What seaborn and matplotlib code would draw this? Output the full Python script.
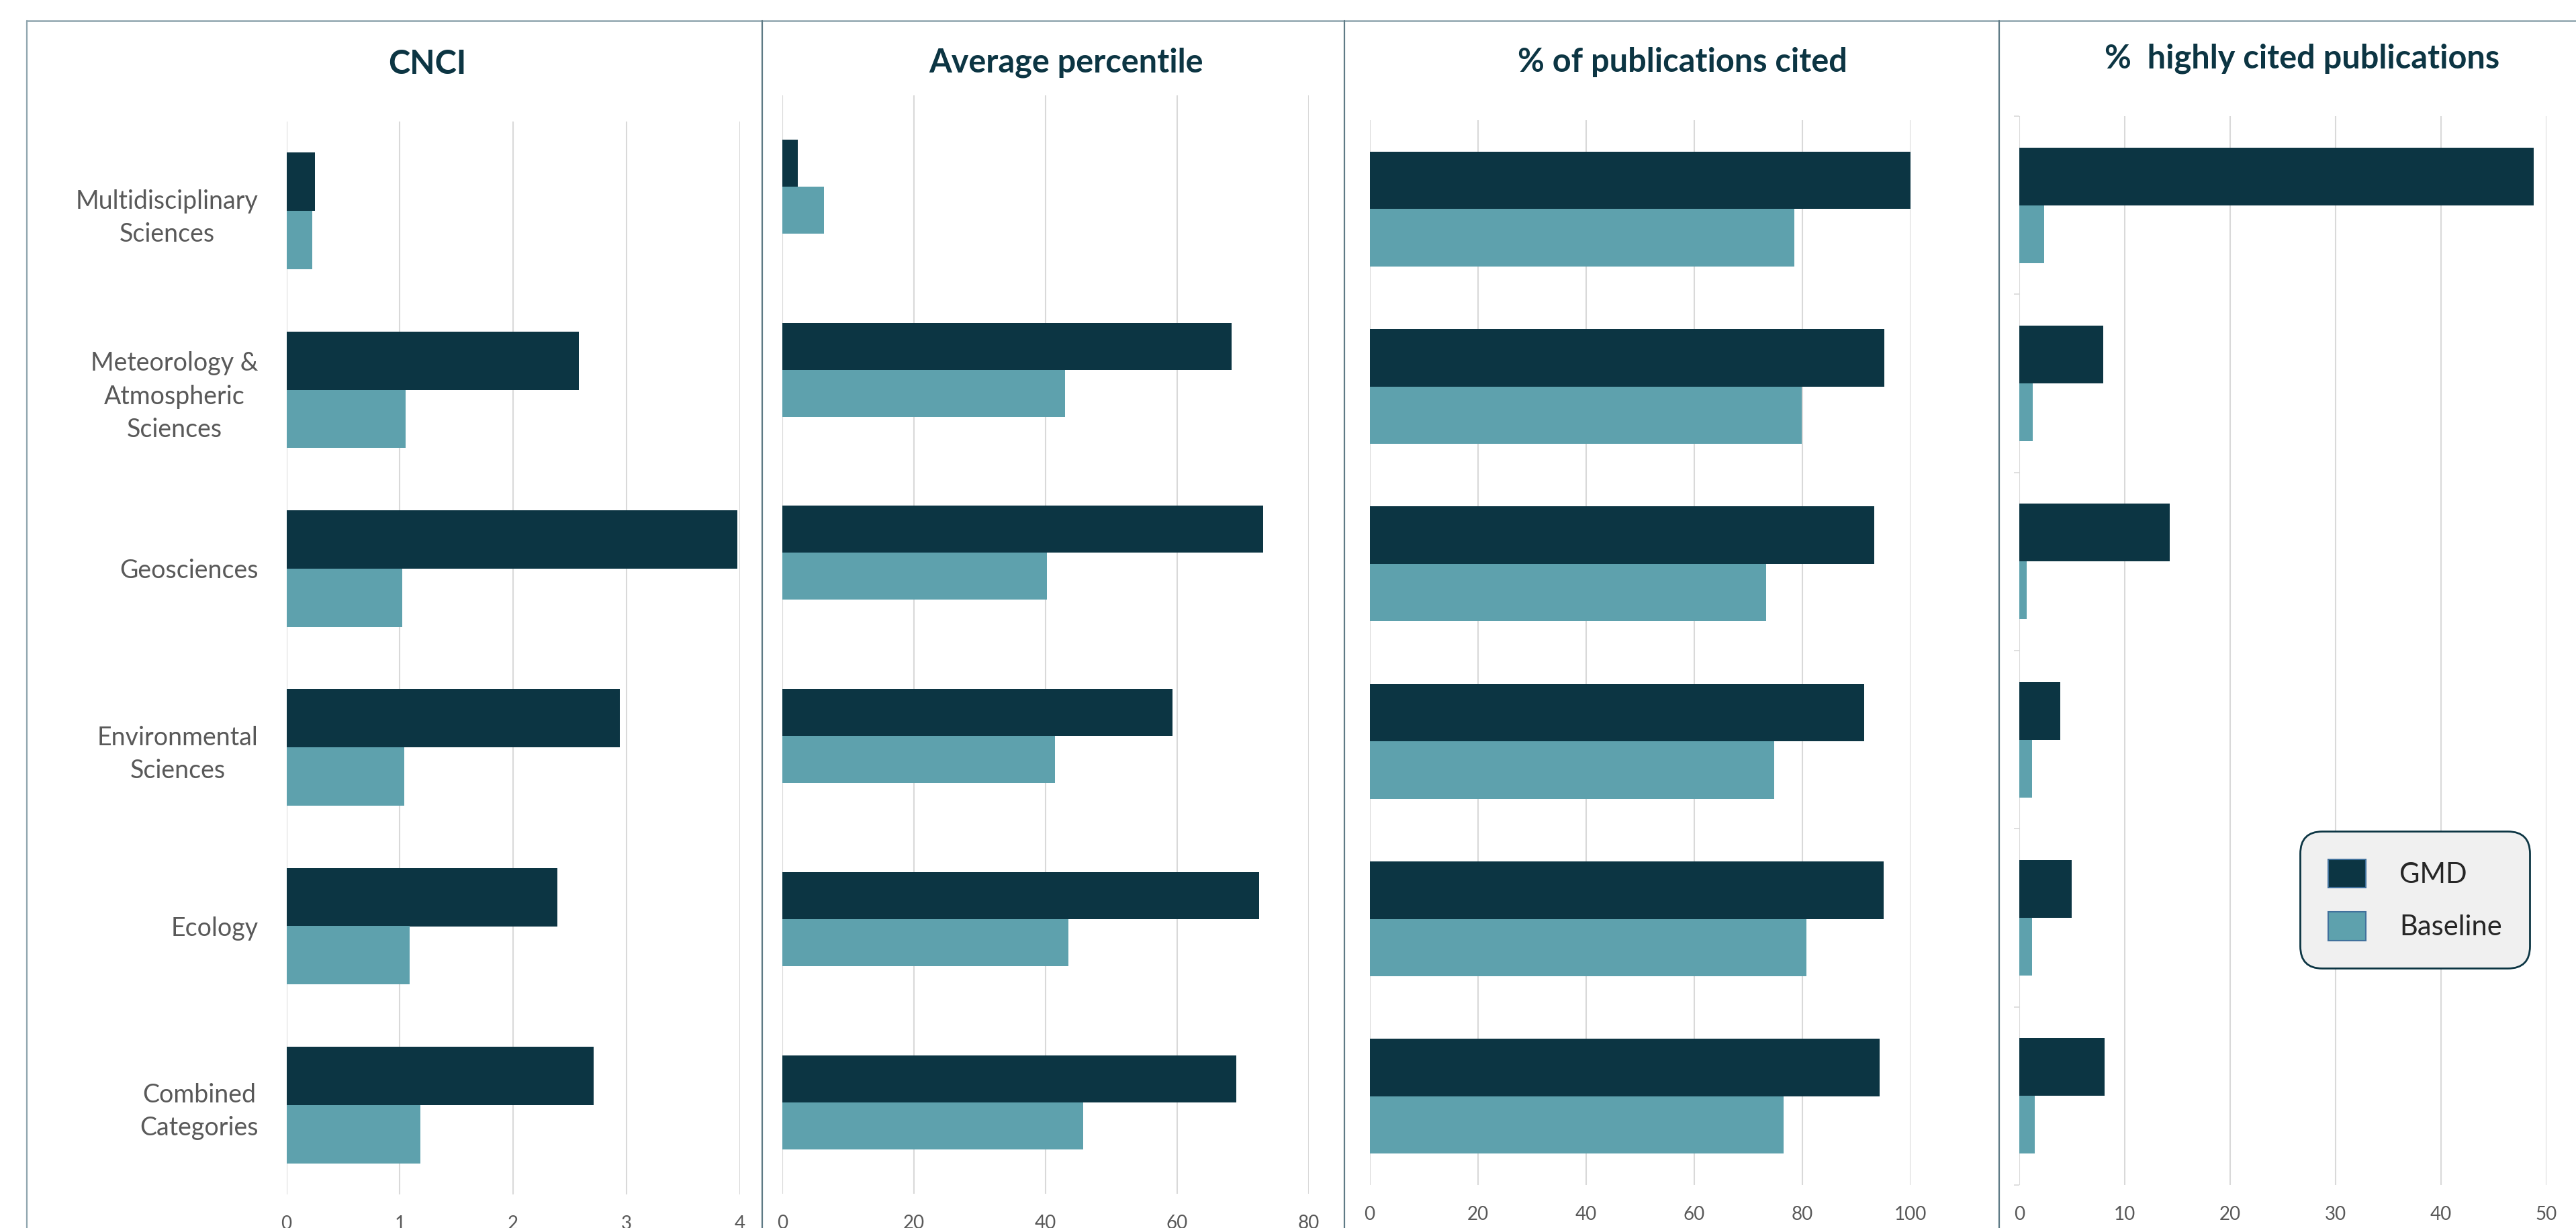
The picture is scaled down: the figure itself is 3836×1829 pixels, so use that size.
import numpy as np
import pandas as pd
import matplotlib.pyplot as plt
import seaborn as sns

categories = ['Multidisciplinary\nSciences', 'Meteorology &\nAtmospheric\nSciences', 'Geosciences',
              'Environmental\nSciences', 'Ecology', 'Combined\nCategories']
groups = ['GMD', 'Baseline']

cnci_gmd = [0.25, 2.58, 3.98, 2.94, 2.39, 2.71]
cnci_base = [0.23, 1.05, 1.02, 1.04, 1.09, 1.18]
pct_gmd = [2.3, 68.3, 73.1, 59.3, 72.5, 69.0]
pct_base = [6.3, 43.0, 40.2, 41.4, 43.5, 45.7]
cited_gmd = [100.0, 95.1, 93.3, 91.4, 95.0, 94.3]
cited_base = [78.5, 79.9, 73.3, 74.8, 80.7, 76.5]
hc_gmd = [48.8, 8.0, 14.3, 3.9, 5.0, 8.1]
hc_base = [2.4, 1.3, 0.7, 1.2, 1.2, 1.5]

titles = ['CNCI', 'Average percentile', '% of publications cited', '%  highly cited publications']
x_max = [4, 80, 100, 50]
x_step = [1, 20, 20, 10]

dark = '#0C3543'
light = '#5EA1AD'

sns.set_style('white')
plt.rcParams['font.family'] = ['Lato', 'DejaVu Sans']

W, H = 3836, 1829
fig = plt.figure(figsize=(W / 100, H / 100), dpi=100)

# axes boxes in pixels: left, right, top, bottom
boxes = [(426.5, 1101.5, 181, 1779),
         (1165.4, 1948.5, 141.6, 1778),
         (2039.6, 2845, 179, 1765),
         (3006.7, 3791.7, 173, 1765)]
bar_w = [0.653, 0.513, 0.648, 0.649]
title_x = [636, 1588, 2505, 3428]
title_y = [110, 107, 107, 102]

series = [(cnci_gmd, cnci_base), (pct_gmd, pct_base), (cited_gmd, cited_base), (hc_gmd, hc_base)]

axes = []
for i, (g, b) in enumerate(series):
    l, r, t, bt = boxes[i]
    ax = fig.add_axes([l / W, 1 - bt / H, (r - l) / W, (bt - t) / H])
    df = pd.DataFrame({
        'category': categories * 2,
        'group': [groups[0]] * 6 + [groups[1]] * 6,
        'value': list(g) + list(b),
    })
    sns.barplot(data=df, y='category', x='value', hue='group', orient='h',
                palette=[dark, light], saturation=1, width=bar_w[i], linewidth=0,
                errorbar=None, legend=(i == 3), ax=ax)
    ax.set_xlim(0, x_max[i])
    ax.set_xticks(np.arange(0, x_max[i] + 0.001, x_step[i]))
    ax.grid(axis='x', color='#D9D9D9', linewidth=1.5)
    ax.set_axisbelow(True)
    for s in ax.spines.values():
        s.set_visible(False)
    ax.set_xlabel('')
    ax.set_ylabel('')
    ax.tick_params(axis='x', length=0, pad=22, labelsize=20, labelcolor='#595959')
    ax.tick_params(axis='y', length=0, pad=30, labelsize=27, labelcolor='#595959')
    if i == 0:
        for lab in ax.get_yticklabels():
            lab.set_multialignment('center')
            lab.set_linespacing(1.45)
    else:
        ax.set_yticklabels([])
    fig.text(title_x[i] / W, 1 - title_y[i] / H, titles[i], ha='center', va='baseline',
             fontsize=35, fontweight='bold', color=dark)
    axes.append(ax)

# little category tick marks on the last panel
ax4 = axes[3]
ax4.set_yticks(np.arange(-0.5, 6, 1), minor=True)
ax4.tick_params(axis='y', which='minor', left=True, length=6, width=1.2, color='#D9D9D9')

handles, labels = ax4.get_legend_handles_labels()
ax4.get_legend().remove()
leg = ax4.legend(handles, labels, loc='upper left', bbox_to_anchor=(3425 / W, 1 - 1238 / H),
                 bbox_transform=fig.transFigure, fontsize=30, frameon=True, fancybox=True,
                 handlelength=1.35, handleheight=1.2, handletextpad=1.2, labelspacing=0.85,
                 borderpad=1.0, borderaxespad=0)
frame = leg.get_frame()
frame.set_facecolor('#F0F0F0')
frame.set_edgecolor(dark)
frame.set_linewidth(2)
frame.set_alpha(1)
frame.set_boxstyle('round', pad=0, rounding_size=0.8)
for h in leg.legend_handles:
    h.set_edgecolor('#41719C')
    h.set_linewidth(1.5)

# panel frames
def vline(x, color):
    fig.add_artist(plt.Line2D([x / W, x / W], [0, 1 - 31 / H], transform=fig.transFigure,
                              color=color, linewidth=1.6))

fig.add_artist(plt.Line2D([40 / W, 1], [1 - 31 / H, 1 - 31 / H], transform=fig.transFigure,
                          color='#8FA5AE', linewidth=1.8))
vline(40, '#8FA5AE')
for x in [1135, 2002, 2977]:
    vline(x, '#5E7A85')

fig.savefig('out.png', dpi=100)
